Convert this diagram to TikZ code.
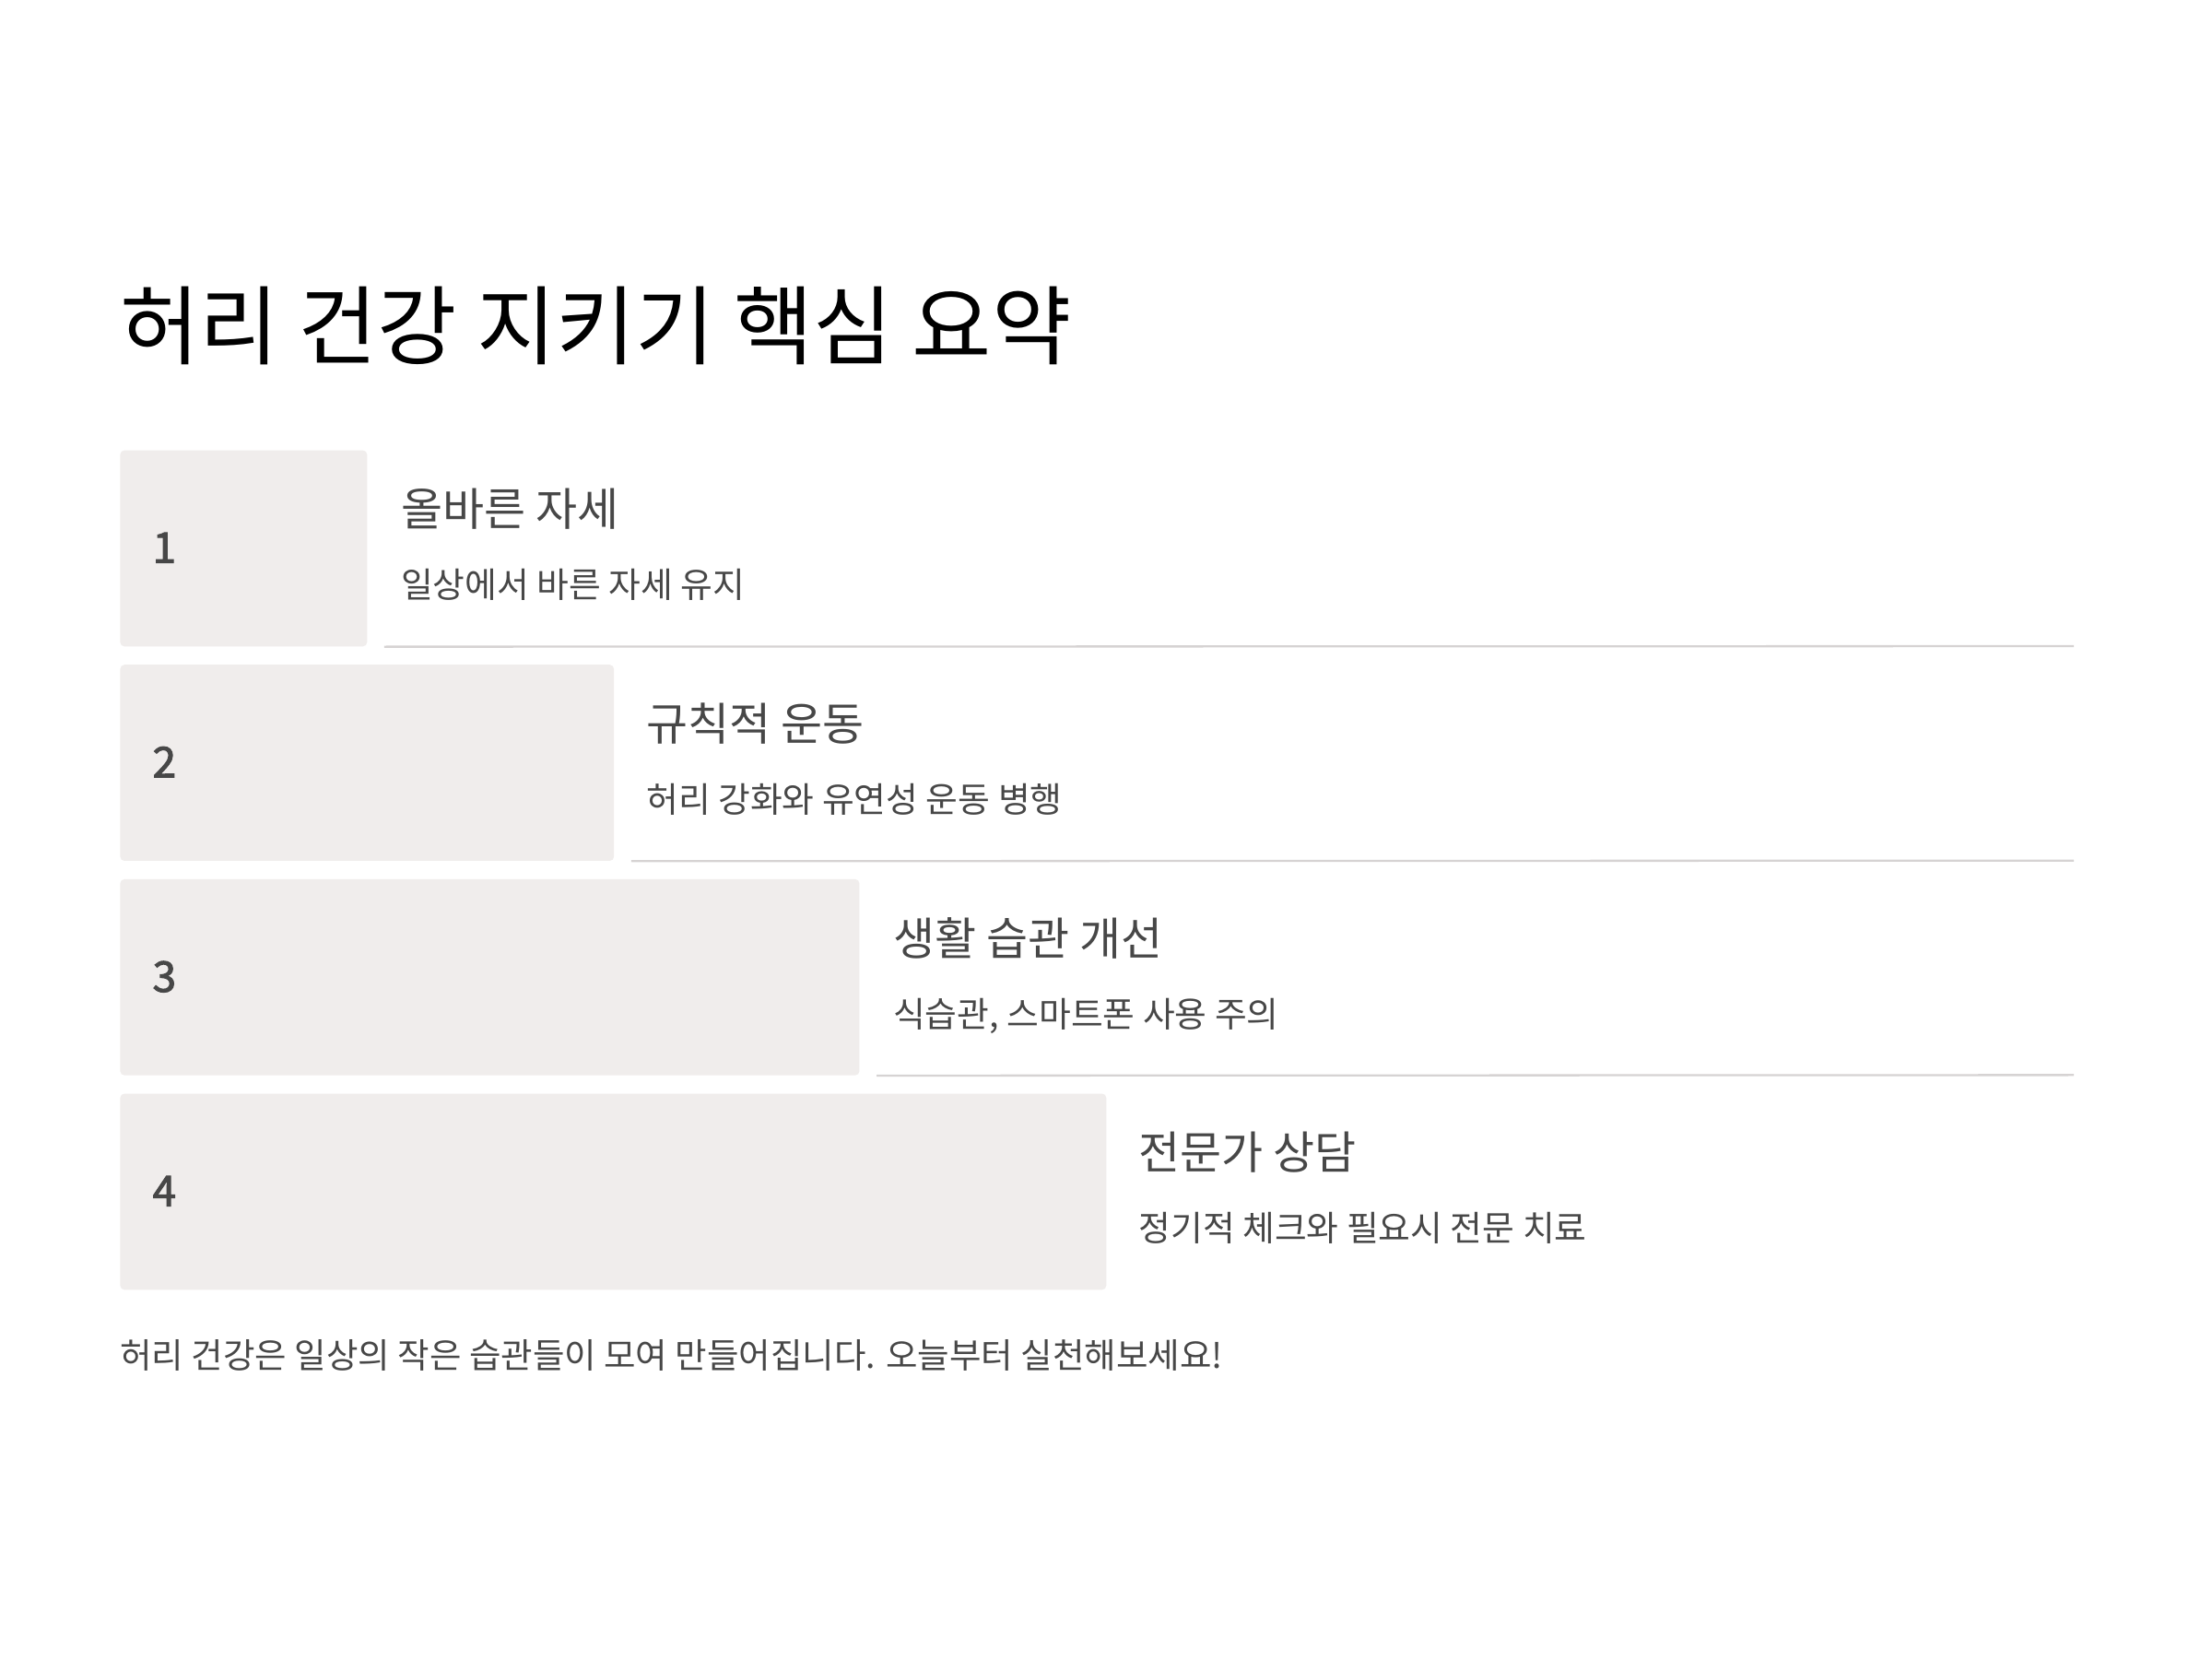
\documentclass[tikz,border=0pt]{standalone}
\usepackage{fontspec}
\setmainfont{Noto Sans CJK KR}
\newfontfamily\numfont[FakeBold=2.2]{Noto Sans CJK KR}
\definecolor{barfill}{HTML}{F0EDEC}
\definecolor{rulegray}{HTML}{D6D3D3}
\definecolor{inkgray}{HTML}{474747}

\begin{document}
\begin{tikzpicture}[x=1pt, y=-1pt,
    stepbar/.style={fill=barfill, rounded corners=3pt, minimum height=139pt, anchor=north west, inner sep=0pt},
    seprule/.style={draw=rulegray, line width=1.5pt},
    numlabel/.style={font=\numfont\fontsize{30}{30}\selectfont, text=inkgray, anchor=base west, inner sep=0pt},
    headline/.style={font=\fontsize{32}{32}\selectfont, text=inkgray, anchor=base west, inner sep=0pt},
    subline/.style={font=\fontsize{24.7}{24.7}\selectfont, text=inkgray, anchor=base west, inner sep=0pt}]
        \useasboundingbox[fill=white] (0,0) rectangle (1568,1176);
        % title
        \node[font=\fontsize{61.2}{61.2}\selectfont, anchor=base west, inner sep=0pt] (title) at (85,254) {허리 건강 지키기 핵심 요약};
        % step 1
        \node[stepbar, minimum width=175pt] (bar1) at (85,319) {};
        \node[numlabel] (num1) at (108,399) {1};
        \node[headline] (head1) at (284,373) {올바른 자세};
        \node[subline] (sub1) at (284,424) {일상에서 바른 자세 유지};
        \coordinate (end1) at (1470,458);
        \draw[seprule] ([xshift=12pt]bar1.south east) -- (end1);
        % step 2
        \node[stepbar, minimum width=350pt] (bar2) at (85,471) {};
        \node[numlabel] (num2) at (108,551) {2};
        \node[headline] (head2) at (458,525) {규칙적 운동};
        \node[subline] (sub2) at (458,576) {허리 강화와 유연성 운동 병행};
        \coordinate (end2) at (1470,610);
        \draw[seprule] ([xshift=12pt]bar2.south east) -- (end2);
        % step 3
        \node[stepbar, minimum width=524pt] (bar3) at (85,623) {};
        \node[numlabel] (num3) at (108,703) {3};
        \node[headline] (head3) at (633,677) {생활 습관 개선};
        \node[subline] (sub3) at (633,728) {식습관, 스마트폰 사용 주의};
        \coordinate (end3) at (1470,762);
        \draw[seprule] ([xshift=12pt]bar3.south east) -- (end3);
        % step 4
        \node[stepbar, minimum width=699pt] (bar4) at (85,775) {};
        \node[numlabel] (num4) at (108,855) {4};
        \node[headline] (head4) at (807,829) {전문가 상담};
        \node[subline] (sub4) at (807,880) {정기적 체크와 필요시 전문 치료};
        % closing line
        \node[font=\fontsize{24.5}{24.5}\selectfont, text=inkgray, anchor=base west, inner sep=0pt] (closing) at (85,970) {허리 건강은 일상의 작은 습관들이 모여 만들어집니다. 오늘부터 실천해보세요!};
\end{tikzpicture}
\end{document}
